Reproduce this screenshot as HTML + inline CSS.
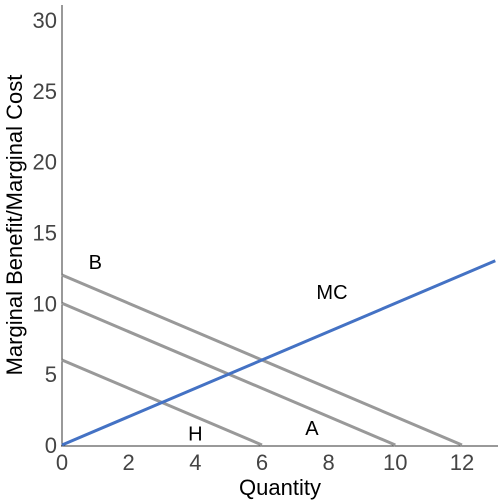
<!DOCTYPE html>
<html><head><meta charset="utf-8"><style>
html,body{margin:0;padding:0;background:#fff;}
svg{display:block;font-family:"Liberation Sans",sans-serif;}
</style></head><body>
<svg id="chart" width="504" height="504">
<g id="axes"></g><g id="marks"></g><g id="labels"></g>
</svg>
<script>
const xTicks=[0,2,4,6,8,10,12];
const yTicks=[0,5,10,15,20,25,30];
const seriesNames=["H","A","B","MC"];
const seriesStartY=[6,10,12,0];
const seriesEndX=[6,10,12,13];
const seriesEndY=[0,0,0,13];
const labelX=[4,7.5,1,8.1];
const labelY=[0.8,1.2,12.9,10.8];
const colors=["#999","#999","#999","#4472c4"];
const X=v=>62+v*33.33, Y=v=>445-v*14.17;
const NS="http://www.w3.org/2000/svg";
function mk(p,t,a){const e=document.createElementNS(NS,t);for(const k in a)e.setAttribute(k,a[k]);p.appendChild(e);return e;}
const ax=document.getElementById('axes'),mg=document.getElementById('marks'),lg=document.getElementById('labels');
let e=mk(ax,'line',{x1:62,y1:5,x2:62,y2:446,stroke:'#333','stroke-width':1});


e=mk(ax,'line',{x1:61,y1:446,x2:498,y2:446,stroke:'#333','stroke-width':1});


xTicks.forEach(v=>{const t=mk(ax,'text',{x:X(v),y:470,'text-anchor':'middle','font-size':22,fill:'#444'});t.textContent=v;

});
yTicks.forEach(v=>{const t=mk(ax,'text',{x:57,y:Y(v)+8,'text-anchor':'end','font-size':22,fill:'#444'});t.textContent=v;

});
let t=mk(ax,'text',{x:280,y:495,'text-anchor':'middle','font-size':22,fill:'#000'});t.textContent='Quantity';


t=mk(ax,'text',{x:0,y:0,transform:'translate(22,225) rotate(-90)','text-anchor':'middle','font-size':22,fill:'#000'});t.textContent='Marginal Benefit/Marginal Cost';


seriesNames.forEach((n,i)=>{
const l=mk(mg,'line',{x1:X(0),y1:Y(seriesStartY[i]),x2:X(seriesEndX[i]),y2:Y(seriesEndY[i]),stroke:colors[i],'stroke-width':3});


const s=mk(lg,'text',{x:X(labelX[i]),y:Y(labelY[i])+7,'text-anchor':'middle','font-size':20,fill:'#000'});s.textContent=n;


});
</script>
</body></html>
